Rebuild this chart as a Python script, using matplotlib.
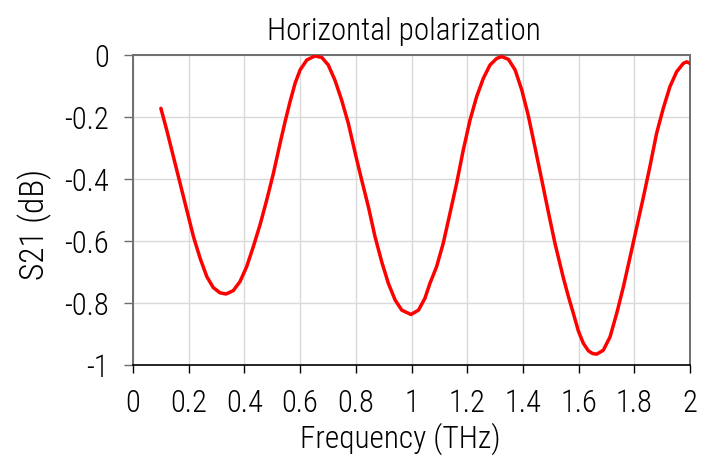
import matplotlib

matplotlib.use("Agg")

import matplotlib.pyplot as plt
from matplotlib.ticker import FuncFormatter, MultipleLocator

# values
freq_thz = [
    0.100, 0.121, 0.145, 0.169, 0.193, 0.217, 0.241, 0.265, 0.288, 0.312,
    0.334, 0.360, 0.384, 0.408, 0.432, 0.456, 0.480, 0.504, 0.528, 0.546,
    0.564, 0.582, 0.600, 0.624, 0.653, 0.678, 0.701, 0.725, 0.749, 0.773,
    0.800, 0.821, 0.845, 0.869, 0.893, 0.917, 0.941, 0.965, 0.998, 1.025,
    1.048, 1.066, 1.090, 1.114, 1.138, 1.162, 1.186, 1.210, 1.234, 1.258,
    1.282, 1.306, 1.324, 1.348, 1.372, 1.396, 1.419, 1.443, 1.467, 1.491,
    1.515, 1.545, 1.563, 1.581, 1.599, 1.617, 1.635, 1.650, 1.665, 1.689,
    1.713, 1.737, 1.761, 1.785, 1.809, 1.833, 1.856, 1.880, 1.904, 1.928,
    1.952, 1.976, 1.988, 2.000,
]
s21_db = [
    -0.172, -0.242, -0.328, -0.414, -0.500, -0.586, -0.656, -0.715, -0.750, -0.767,
    -0.771, -0.760, -0.731, -0.683, -0.618, -0.548, -0.468, -0.382, -0.285, -0.215,
    -0.150, -0.091, -0.048, -0.016, -0.003, -0.008, -0.032, -0.081, -0.145, -0.220,
    -0.325, -0.403, -0.489, -0.586, -0.667, -0.737, -0.790, -0.823, -0.837, -0.823,
    -0.785, -0.737, -0.683, -0.607, -0.511, -0.414, -0.306, -0.210, -0.134, -0.075,
    -0.032, -0.011, -0.005, -0.014, -0.048, -0.113, -0.194, -0.296, -0.400, -0.505,
    -0.607, -0.718, -0.778, -0.833, -0.890, -0.930, -0.954, -0.963, -0.965, -0.952,
    -0.909, -0.833, -0.747, -0.651, -0.554, -0.457, -0.360, -0.253, -0.172, -0.102,
    -0.054, -0.027, -0.022, -0.027,
]

FONT = ["Roboto Condensed", "DejaVu Sans"]

plt.rcParams.update(
    {
        "font.family": FONT,
        "font.weight": "light",
        "axes.titleweight": "light",
        "axes.labelweight": "light",
        "font.size": 22,
        "axes.unicode_minus": False,
    }
)

fig = plt.figure(figsize=(7.02, 4.57), dpi=100)
ax = fig.add_axes([0.1895, 0.2013, 0.7934, 0.6783])

ax.plot(freq_thz, s21_db, color="#FF0000", linewidth=2.5,
        solid_joinstyle="round", solid_capstyle="round", zorder=3)

ax.set_xlim(0, 2)
ax.set_ylim(-1, 0)
ax.xaxis.set_major_locator(MultipleLocator(0.2))
ax.yaxis.set_major_locator(MultipleLocator(0.2))
fmt = FuncFormatter(lambda v, _: f"{round(v, 6):g}")
ax.xaxis.set_major_formatter(fmt)
ax.yaxis.set_major_formatter(fmt)

ax.grid(True, color="#D9D9D9", linewidth=1.0)
ax.set_axisbelow(True)

for side in ["top", "left", "right"]:
    ax.spines[side].set_color("#6E6E6E")
    ax.spines[side].set_linewidth(1.4)
ax.spines["bottom"].set_color("#000000")
ax.spines["bottom"].set_linewidth(1.2)

ax.tick_params(axis="x", direction="out", length=6, width=1.0, color="#000000", pad=11)
ax.tick_params(axis="y", direction="out", length=6.5, width=1.0, color="#6E6E6E", pad=11)

ax.set_title("Horizontal polarization", fontsize=22.5, x=0.486, pad=11)
ax.set_xlabel("Frequency (THz)", fontsize=22.5)
ax.xaxis.set_label_coords(0.479, -0.185)
ax.set_ylabel("S21 (dB)", fontsize=24)
ax.yaxis.set_label_coords(-0.145, 0.452)

fig.savefig("out.png", dpi=100)
